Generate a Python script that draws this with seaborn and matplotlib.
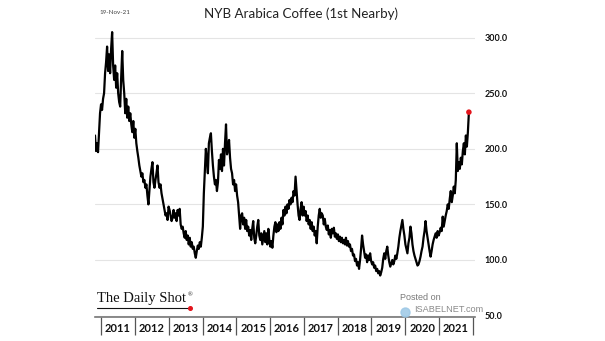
import numpy as np
import pandas as pd
import matplotlib
matplotlib.use("Agg")
import matplotlib.pyplot as plt
import matplotlib.dates as mdates
from matplotlib.lines import Line2D
import seaborn as sns

# ---- data ----
prices_2010_2012 = [
    212, 198, 205, 197, 215, 232,
    240, 235, 245, 250, 268, 278, 292, 270, 285, 268,
    290, 305, 275, 262, 275, 255, 268, 250, 242, 238,
    265, 288, 262, 250, 232, 245, 228, 238, 225, 232,
    222, 215, 225, 210, 218, 205, 198, 192, 185, 180,
    175, 178, 170, 172, 165, 168, 158, 150, 162, 175,
    182, 188, 170, 165, 172, 178, 185, 170, 165, 168,
    160, 155, 150, 145, 140, 142, 136, 148, 145,
]
prices_2013_2014 = [
    140, 135, 138, 145, 138, 142, 135, 145, 140, 146,
    132, 128, 130, 124, 120, 126, 118, 122, 114, 120,
    112, 116, 110, 112, 106, 102, 108, 113, 110, 116,
    112, 120, 130, 160, 180, 200, 190, 178, 205, 210,
    214, 198, 185, 175, 168, 172, 162, 170, 190, 182,
    195, 180, 200, 185, 205, 222, 195, 200, 208, 192,
    182, 178, 168, 172, 162, 168, 158, 152, 140, 128, 140,
]
prices_2015_2017 = [
    142, 132, 138, 128, 136, 126, 130, 122, 127, 118,
    128, 135, 120, 115, 122, 130, 136, 122, 118, 124,
    114, 120, 126, 116, 124, 114, 128, 118, 112, 117,
    111, 122, 130, 134, 125, 132, 126, 134, 128, 138,
    132, 145, 140, 148, 142, 150, 146, 154, 150, 156,
    152, 162, 158, 175, 162, 150, 140, 136, 146, 152,
    140, 148, 140, 144, 135, 140, 132, 136, 128, 134,
    126, 130, 122, 126, 115, 130, 140, 146, 138, 142,
]
prices_2017_2019 = [
    140, 132, 137, 130, 127, 131, 123, 127, 120, 128,
    124, 129, 121, 124, 119, 123, 117, 121, 116, 120,
    115, 118, 114, 120, 113, 117, 112, 114, 108, 110,
    104, 105, 99, 101, 95, 98, 92, 100, 110, 122,
    114, 108, 102, 105, 98, 104, 100, 106, 99, 96,
    98, 93, 95, 90, 92, 88, 90, 86, 89, 93,
    101, 106, 101, 108, 112, 104, 98, 94, 97, 100,
    96, 99, 104, 101, 106,
]
prices_2019_2021 = [
    112, 120, 126, 131, 136, 128, 122, 114, 110, 106,
    115, 120, 130, 124, 114, 108, 104, 101, 98, 95,
    96, 99, 103, 108, 112, 120, 126, 135, 126, 120,
    114, 108, 103, 108, 114, 118, 121, 124, 120, 126,
    122, 125, 129, 126, 139, 130, 135, 140, 144, 150,
    146, 155, 162, 152, 158, 166, 160, 172, 205, 180,
    188, 182, 192, 186, 198, 205, 195, 212, 202, 215, 233,
]
prices = (prices_2010_2012 + prices_2013_2014 + prices_2015_2017
          + prices_2017_2019 + prices_2019_2021)
first_date = "2010-10-27"
last_date = "2021-11-19"
years = list(range(2011, 2022))
y_ticks = [50, 100, 150, 200, 250, 300]
y_labels = ["50.0", "100.0", "150.0", "200.0", "250.0", "300.0"]
title = "NYB Arabica Coffee (1st Nearby)"
date_note = "19-Nov-21"

dates = pd.date_range(first_date, last_date, periods=len(prices))
df = pd.DataFrame({"date": dates, "price": prices})

# ---- figure ----
sns.set_style("white")
plt.rcParams["font.family"] = ["Lato", "DejaVu Sans"]

W, H = 605, 341
fig = plt.figure(figsize=(W / 100, H / 100), dpi=100)
ax = fig.add_axes([95 / W, (H - 317) / H, 380 / W, (317 - 27) / H])

sns.lineplot(data=df, x="date", y="price", ax=ax, color="black",
             linewidth=1.6, estimator=None)
last = df.iloc[[-1]]
sns.scatterplot(data=last, x="date", y="price", ax=ax, color="#e3141b",
                s=16, edgecolor="none", zorder=5)

ax.set_xlim(pd.Timestamp("2010-10-27"), pd.Timestamp("2022-01-24"))
ax.set_ylim(48.7, 309.6)

# gridlines
ax.set_yticks(y_ticks)
ax.set_yticklabels(y_labels)
ax.yaxis.tick_right()
ax.grid(axis="y", color="#e4e4e4", linewidth=0.8)
ax.grid(axis="x", visible=False)
ax.tick_params(axis="y", length=0, pad=7, labelsize=6.5, labelcolor="#111111")
for t in ax.get_yticklabels():
    t.set_fontweight("bold")

# x axis: year separators (major) and year labels (minor)
major = [mdates.date2num(pd.Timestamp(f"{y}-01-01")) for y in years + [years[-1] + 1]]
minor = [mdates.date2num(pd.Timestamp(f"{y}-07-02")) for y in years]
ax.set_xticks(major)
ax.set_xticklabels([""] * len(major))
ax.set_xticks(minor, minor=True)
ax.set_xticklabels([str(y) for y in years], minor=True)
ax.tick_params(axis="x", which="major", bottom=True, direction="out",
               length=13, width=0.9, color="#555555")
ax.tick_params(axis="x", which="minor", bottom=True, length=0, pad=4,
               labelsize=8, labelcolor="#111111")
for t in ax.get_xticklabels(minor=True):
    t.set_fontweight("bold")

for s in ["top", "left", "right"]:
    ax.spines[s].set_visible(False)
ax.spines["bottom"].set_color("#777777")
ax.spines["bottom"].set_linewidth(1.2)
ax.set_xlabel("")
ax.set_ylabel("")

# texts
fig.text(301 / W, 1 - 14 / H, title, ha="center", va="center",
         fontsize=9.6, color="#222222")
fig.text(99 / W, 1 - 13 / H, date_note, ha="left", va="center",
         fontsize=4.5, color="#444444")

# The Daily Shot logo
fig.text(97 / W, 1 - 302 / H, "The Daily Shot", ha="left", va="baseline",
         fontsize=10.5, family=["Liberation Serif"], color="#111111")
fig.text(188 / W, 1 - 296 / H, "®", ha="left", va="baseline",
         fontsize=4.5, family=["Liberation Serif"], color="#111111")
fig.add_artist(Line2D([97 / W, 189 / W], [1 - 307.5 / H] * 2,
                      color="#111111", linewidth=0.8))
fig.add_artist(Line2D([190 / W], [1 - 308 / H], marker="o", markersize=2.6,
                      color="#e3141b", linestyle="none"))

# Posted on ISABELNET.com
fig.text(400 / W, 1 - 298 / H, "Posted on", ha="left", va="center",
         fontsize=6.5, family=["Liberation Sans"], color="#7a7a7a")
fig.add_artist(Line2D([405 / W], [1 - 312 / H], marker="o", markersize=6.5,
                      color="#9cc8e6", linestyle="none", alpha=0.85,
                      zorder=10))
fig.text(414 / W, 1 - 310 / H, "ISABELNET.com", ha="left", va="center",
         fontsize=6.6, family=["Liberation Sans"], color="#8a8a8a")

fig.savefig("out.png", dpi=100)
